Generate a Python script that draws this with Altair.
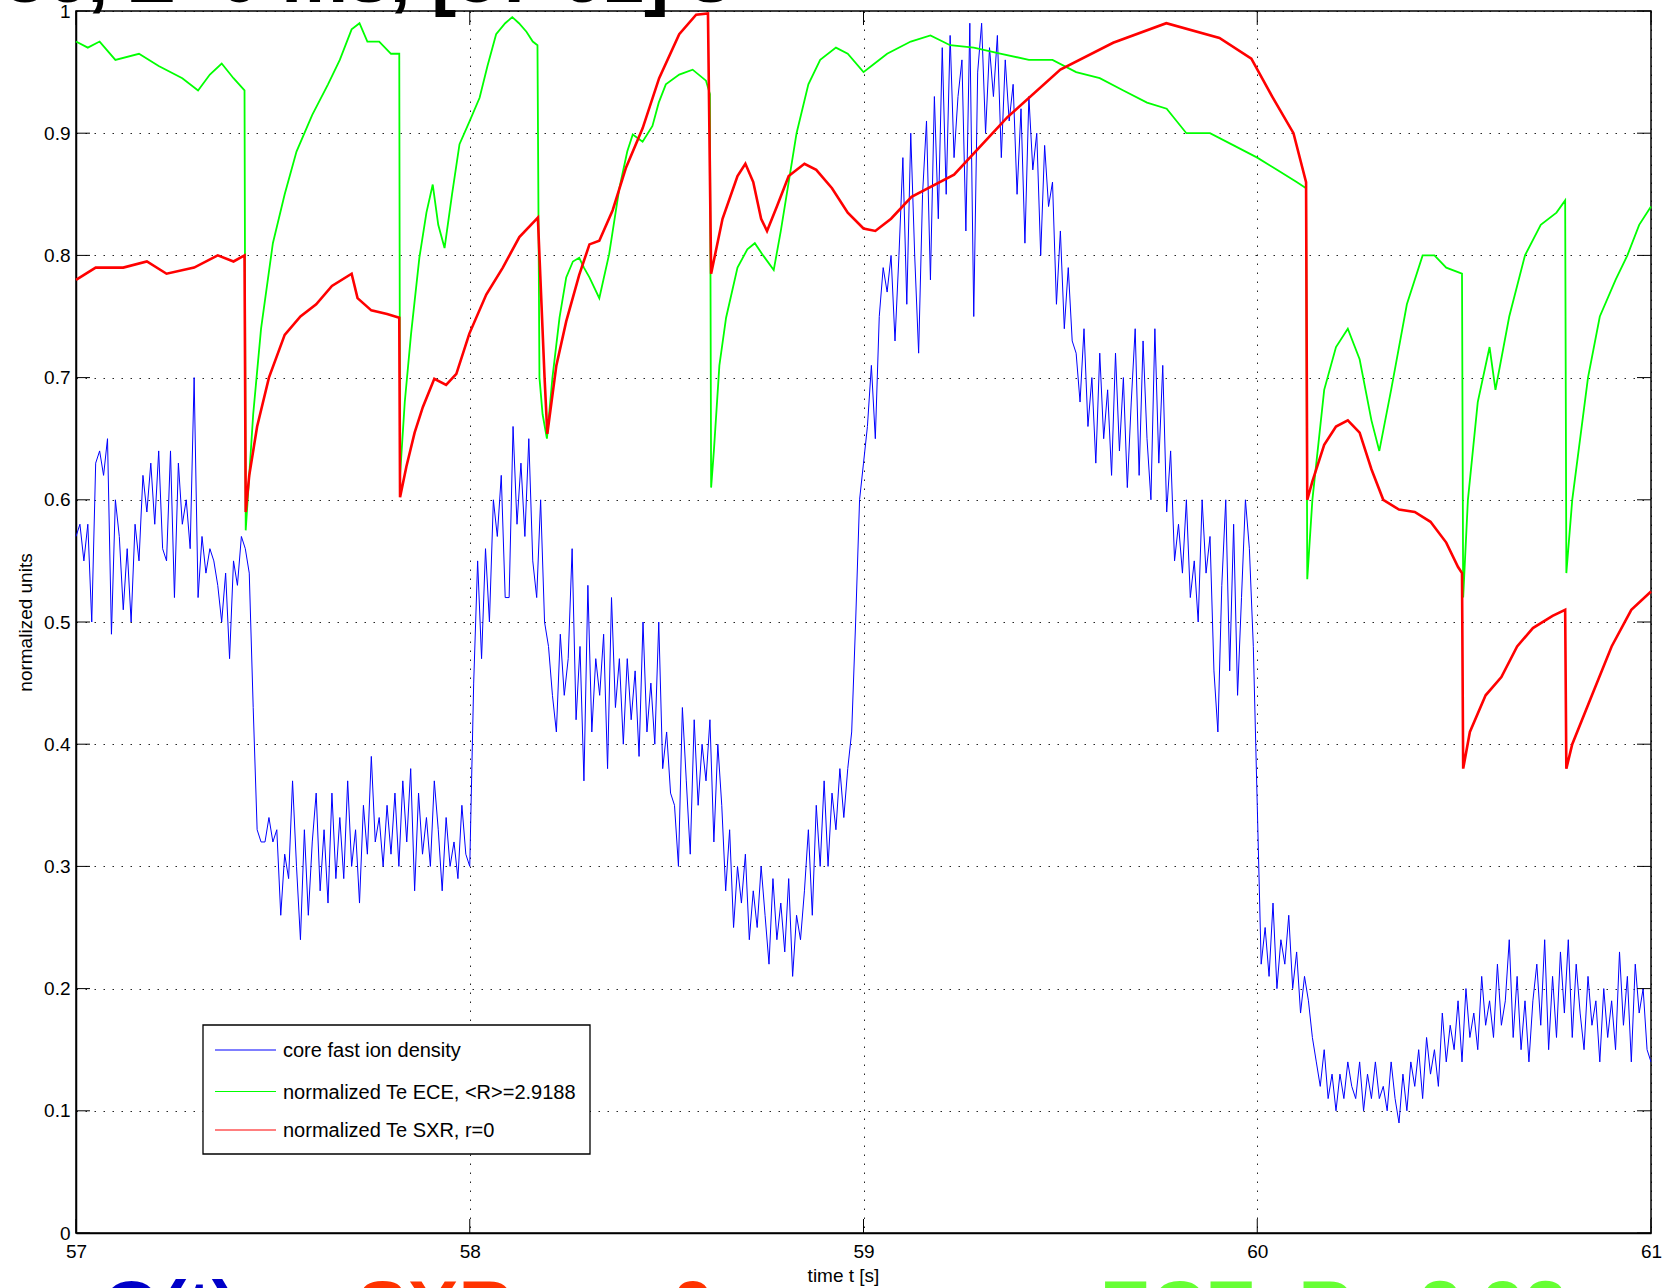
import altair as alt
import pandas as pd

FONT = "Liberation Sans"

# ---------------- data ----------------
labels = ["core fast ion density", "normalized Te ECE, <R>=2.9188", "normalized Te SXR, r=0"]
colors = ["#0000ff", "#00ff00", "#ff0000"]

# core fast ion density, sampled every 0.01 s from 57.00 s
blue_start = 57.0
blue_step = 0.01
blue_v = [
    0.57, 0.58, 0.55, 0.58, 0.50, 0.63, 0.64, 0.62, 0.65, 0.49,
    0.60, 0.57, 0.51, 0.56, 0.50, 0.58, 0.55, 0.62, 0.59, 0.63,
    0.58, 0.64, 0.56, 0.55, 0.64, 0.52, 0.63, 0.58, 0.60, 0.56,
    0.70, 0.52, 0.57, 0.54, 0.56, 0.55, 0.53, 0.50, 0.54, 0.47,
    0.55, 0.53, 0.57, 0.56, 0.54, 0.43, 0.33, 0.32, 0.32, 0.34,
    0.32, 0.33, 0.26, 0.31, 0.29, 0.37, 0.30, 0.24, 0.33, 0.26,
    0.32, 0.36, 0.28, 0.33, 0.27, 0.36, 0.29, 0.34, 0.29, 0.37,
    0.30, 0.33, 0.27, 0.35, 0.31, 0.39, 0.32, 0.34, 0.30, 0.35,
    0.31, 0.36, 0.30, 0.37, 0.32, 0.38, 0.28, 0.36, 0.31, 0.34,
    0.30, 0.37, 0.33, 0.28, 0.34, 0.30, 0.32, 0.29, 0.35, 0.31,
    0.30, 0.45, 0.55, 0.47, 0.56, 0.50, 0.60, 0.57, 0.62, 0.52,
    0.52, 0.66, 0.58, 0.63, 0.57, 0.65, 0.55, 0.52, 0.60, 0.50,
    0.48, 0.44, 0.41, 0.49, 0.44, 0.47, 0.56, 0.42, 0.48, 0.37,
    0.53, 0.41, 0.47, 0.44, 0.49, 0.38, 0.52, 0.43, 0.47, 0.40,
    0.47, 0.42, 0.46, 0.39, 0.50, 0.41, 0.45, 0.40, 0.50, 0.38,
    0.41, 0.36, 0.35, 0.30, 0.43, 0.37, 0.31, 0.42, 0.35, 0.40,
    0.37, 0.42, 0.32, 0.40, 0.35, 0.28, 0.33, 0.25, 0.30, 0.27,
    0.31, 0.24, 0.28, 0.25, 0.30, 0.26, 0.22, 0.29, 0.24, 0.27,
    0.23, 0.29, 0.21, 0.26, 0.24, 0.28, 0.33, 0.26, 0.35, 0.30,
    0.37, 0.30, 0.36, 0.33, 0.38, 0.34, 0.38, 0.41, 0.50, 0.60,
    0.63, 0.66, 0.71, 0.65, 0.75, 0.79, 0.77, 0.80, 0.73, 0.80,
    0.88, 0.76, 0.90, 0.80, 0.72, 0.85, 0.91, 0.78, 0.93, 0.83,
    0.97, 0.85, 0.98, 0.88, 0.93, 0.96, 0.82, 0.99, 0.75, 0.95,
    0.99, 0.90, 0.97, 0.93, 0.98, 0.88, 0.96, 0.91, 0.94, 0.85,
    0.92, 0.81, 0.93, 0.87, 0.90, 0.80, 0.89, 0.84, 0.86, 0.76,
    0.82, 0.74, 0.79, 0.73, 0.72, 0.68, 0.74, 0.66, 0.70, 0.63,
    0.72, 0.65, 0.69, 0.62, 0.72, 0.64, 0.70, 0.61, 0.68, 0.74,
    0.62, 0.73, 0.65, 0.60, 0.74, 0.63, 0.71, 0.59, 0.64, 0.55,
    0.58, 0.54, 0.60, 0.52, 0.55, 0.50, 0.60, 0.54, 0.57, 0.46,
    0.41, 0.53, 0.60, 0.46, 0.58, 0.44, 0.52, 0.60, 0.56, 0.48,
    0.35, 0.22, 0.25, 0.21, 0.27, 0.20, 0.24, 0.22, 0.26, 0.20,
    0.23, 0.18, 0.21, 0.19, 0.16, 0.14, 0.12, 0.15, 0.11, 0.13,
    0.10, 0.13, 0.11, 0.14, 0.12, 0.11, 0.14, 0.10, 0.13, 0.11,
    0.14, 0.11, 0.12, 0.10, 0.14, 0.11, 0.09, 0.13, 0.10, 0.14,
    0.12, 0.15, 0.11, 0.16, 0.13, 0.15, 0.12, 0.18, 0.14, 0.17,
    0.15, 0.19, 0.14, 0.20, 0.16, 0.18, 0.15, 0.21, 0.17, 0.19,
    0.16, 0.22, 0.17, 0.19, 0.24, 0.16, 0.21, 0.15, 0.19, 0.14,
    0.19, 0.22, 0.17, 0.24, 0.15, 0.21, 0.16, 0.23, 0.18, 0.24,
    0.16, 0.22, 0.18, 0.15, 0.21, 0.17, 0.19, 0.14, 0.20, 0.16,
    0.19, 0.15, 0.23, 0.17, 0.21, 0.14, 0.22, 0.18, 0.20, 0.15,
    0.14,
]
blue_t = [round(blue_start + i * blue_step, 3) for i in range(len(blue_v))]

# normalized Te ECE
green_t = [
    57.000, 57.030, 57.060, 57.100, 57.160, 57.210, 57.270, 57.310, 57.340, 57.370,
    57.400, 57.428, 57.431, 57.440, 57.450, 57.470, 57.500, 57.530, 57.560, 57.600,
    57.640, 57.670, 57.700, 57.720, 57.740, 57.770, 57.800, 57.821, 57.823, 57.835,
    57.851, 57.872, 57.890, 57.906, 57.920, 57.936, 57.955, 57.974, 58.000, 58.025,
    58.045, 58.067, 58.090, 58.108, 58.125, 58.144, 58.160, 58.172, 58.177, 58.185,
    58.196, 58.210, 58.228, 58.245, 58.262, 58.278, 58.290, 58.304, 58.329, 58.354,
    58.380, 58.400, 58.414, 58.439, 58.464, 58.480, 58.498, 58.532, 58.566, 58.600,
    58.610, 58.613, 58.620, 58.634, 58.651, 58.680, 58.705, 58.724, 58.745, 58.772,
    58.790, 58.810, 58.830, 58.860, 58.890, 58.930, 58.960, 59.000, 59.020, 59.060,
    59.120, 59.170, 59.220, 59.280, 59.350, 59.420, 59.480, 59.540, 59.600, 59.660,
    59.720, 59.770, 59.820, 59.880, 59.940, 60.000, 60.050, 60.100, 60.124, 60.127,
    60.140, 60.170, 60.200, 60.230, 60.260, 60.290, 60.310, 60.340, 60.380, 60.420,
    60.450, 60.480, 60.520, 60.523, 60.535, 60.560, 60.590, 60.605, 60.640, 60.680,
    60.720, 60.760, 60.782, 60.785, 60.800, 60.840, 60.870, 60.910, 60.940, 60.970,
    61.000,
]
green_v = [
    0.975, 0.970, 0.975, 0.960, 0.965, 0.955, 0.945, 0.935, 0.948, 0.957,
    0.945, 0.935, 0.575, 0.620, 0.670, 0.740, 0.810, 0.850, 0.885, 0.915,
    0.940, 0.960, 0.985, 0.990, 0.975, 0.975, 0.965, 0.965, 0.620, 0.680,
    0.736, 0.798, 0.835, 0.858, 0.825, 0.806, 0.850, 0.891, 0.910, 0.929,
    0.955, 0.981, 0.990, 0.995, 0.990, 0.983, 0.975, 0.972, 0.700, 0.670,
    0.650, 0.700, 0.749, 0.782, 0.795, 0.798, 0.790, 0.782, 0.765, 0.801,
    0.855, 0.885, 0.899, 0.893, 0.906, 0.925, 0.940, 0.948, 0.952, 0.943,
    0.932, 0.610, 0.640, 0.710, 0.749, 0.790, 0.805, 0.810, 0.800, 0.788,
    0.820, 0.860, 0.900, 0.940, 0.960, 0.970, 0.965, 0.950, 0.955, 0.965,
    0.975, 0.980, 0.972, 0.970, 0.965, 0.960, 0.960, 0.950, 0.945, 0.935,
    0.925, 0.920, 0.900, 0.900, 0.890, 0.880, 0.870, 0.860, 0.855, 0.535,
    0.600, 0.690, 0.725, 0.740, 0.715, 0.665, 0.640, 0.690, 0.760, 0.800,
    0.800, 0.790, 0.785, 0.520, 0.600, 0.680, 0.725, 0.690, 0.750, 0.800,
    0.825, 0.835, 0.845, 0.540, 0.600, 0.700, 0.750, 0.780, 0.800, 0.825,
    0.840,
]

# normalized Te SXR
red_t = [
    57.000, 57.050, 57.120, 57.180, 57.230, 57.300, 57.360, 57.400, 57.428, 57.431,
    57.440, 57.460, 57.490, 57.530, 57.570, 57.610, 57.650, 57.700, 57.715, 57.750,
    57.790, 57.821, 57.823, 57.839, 57.860, 57.881, 57.910, 57.940, 57.966, 57.999,
    58.042, 58.084, 58.126, 58.173, 58.177, 58.190, 58.197, 58.220, 58.245, 58.278,
    58.304, 58.329, 58.363, 58.397, 58.439, 58.481, 58.532, 58.575, 58.605, 58.613,
    58.642, 58.680, 58.700, 58.720, 58.740, 58.755, 58.780, 58.810, 58.850, 58.880,
    58.920, 58.960, 59.000, 59.030, 59.070, 59.122, 59.230, 59.365, 59.500, 59.634,
    59.769, 59.904, 59.985, 60.038, 60.092, 60.124, 60.127, 60.140, 60.170, 60.200,
    60.230, 60.260, 60.290, 60.320, 60.360, 60.400, 60.440, 60.480, 60.510, 60.520,
    60.523, 60.540, 60.580, 60.620, 60.660, 60.700, 60.750, 60.782, 60.785, 60.800,
    60.850, 60.900, 60.950, 61.000,
]
red_v = [
    0.780, 0.790, 0.790, 0.795, 0.785, 0.790, 0.800, 0.795, 0.800, 0.590,
    0.620, 0.660, 0.700, 0.735, 0.750, 0.760, 0.775, 0.785, 0.765, 0.755,
    0.752, 0.749, 0.602, 0.627, 0.655, 0.676, 0.699, 0.694, 0.703, 0.736,
    0.768, 0.790, 0.815, 0.831, 0.800, 0.700, 0.654, 0.710, 0.746, 0.784,
    0.809, 0.812, 0.837, 0.872, 0.904, 0.945, 0.981, 0.997, 0.998, 0.785,
    0.830, 0.865, 0.875, 0.860, 0.830, 0.820, 0.840, 0.865, 0.875, 0.870,
    0.855, 0.835, 0.822, 0.820, 0.830, 0.848, 0.866, 0.913, 0.952, 0.974,
    0.990, 0.978, 0.961, 0.930, 0.900, 0.860, 0.600, 0.615, 0.645, 0.660,
    0.665, 0.655, 0.625, 0.600, 0.592, 0.590, 0.582, 0.565, 0.545, 0.540,
    0.380, 0.410, 0.440, 0.455, 0.480, 0.495, 0.505, 0.510, 0.380, 0.400,
    0.440, 0.480, 0.510, 0.525,
]

x_ticks = [57, 58, 59, 60, 61]
y_ticks = [round(i * 0.1, 1) for i in range(11)]

title_text = "86, Z=0 ms, [57 61] s"
caption_blue = "Q(t)"
caption_red = "SXR,  r =  0"
caption_green = "ECE, R= 2.92"

# ---------------- layout ----------------
W, H = 1575, 1222
PAD = {"left": 76, "top": 11, "right": 11, "bottom": 55}

frames = []
for lab, tt, vv in zip(labels, [blue_t, green_t, red_t], [blue_v, green_v, red_v]):
    frames.append(pd.DataFrame({"t": tt, "v": vv, "series": lab}))
df = pd.concat(frames, ignore_index=True)

xs = alt.Scale(domain=[57, 61], nice=False, zero=False)
ys = alt.Scale(domain=[0, 1], nice=False, zero=False)

x_axis = alt.Axis(
    values=x_ticks, format="d", title="time t [s]", ticks=False, labelFlush=False,
    labelOverlap=False,
    labelPadding=9, labelFontSize=19, titleFontSize=19, titleFontWeight="normal",
    titleX=767, titleY=48, titleBaseline="alphabetic", titleAlign="center",
    grid=True, gridDash=[1.5, 7.5], gridColor="#000000", gridOpacity=0.85,
    domainColor="#000000", domainWidth=1.5, labelColor="#000000", titleColor="#000000")
y_axis = alt.Axis(
    values=y_ticks, format="~g", title="normalized units", ticks=False, labelFlush=False,
    labelOverlap=False,
    labelPadding=6, labelFontSize=19, titleFontSize=19, titleFontWeight="normal",
    titleX=-45, titleY=611, titleAngle=270, titleBaseline="alphabetic", titleAlign="center",
    grid=True, gridDash=[1.5, 7.5], gridColor="#000000", gridOpacity=0.85,
    domainColor="#000000", domainWidth=1.5, labelColor="#000000", titleColor="#000000")

lines = alt.Chart(df).mark_line(strokeJoin="miter").encode(
    x=alt.X("t:Q", scale=xs, axis=x_axis),
    y=alt.Y("v:Q", scale=ys, axis=y_axis),
    color=alt.Color("series:N", scale=alt.Scale(domain=labels, range=colors), legend=None),
    strokeWidth=alt.StrokeWidth("series:N", scale=alt.Scale(domain=labels, range=[1.0, 2.6, 1.3]), legend=None),
)

tick_y_df = pd.DataFrame({"v": y_ticks})
tick_x_df = pd.DataFrame({"t": x_ticks})
TL = 14
ticks_left = alt.Chart(tick_y_df).mark_rule(color="black", strokeWidth=1).encode(
    y=alt.Y("v:Q", scale=ys, axis=y_axis), x=alt.value(0), x2=alt.value(TL))
ticks_right = alt.Chart(tick_y_df).mark_rule(color="black", strokeWidth=1).encode(
    y=alt.Y("v:Q", scale=ys, axis=y_axis), x=alt.value(W - TL), x2=alt.value(W))
ticks_bottom = alt.Chart(tick_x_df).mark_rule(color="black", strokeWidth=1).encode(
    x=alt.X("t:Q", scale=xs, axis=x_axis), y=alt.value(H - TL), y2=alt.value(H))
ticks_top = alt.Chart(tick_x_df).mark_rule(color="black", strokeWidth=1).encode(
    x=alt.X("t:Q", scale=xs, axis=x_axis), y=alt.value(0), y2=alt.value(TL))

# legend box
legend_box = alt.Chart(pd.DataFrame({"k": [0]})).mark_rect(
    fill="white", stroke="black", strokeWidth=1.3).encode(
    x=alt.value(127), x2=alt.value(514), y=alt.value(1014), y2=alt.value(1143))

legend_rows = [1039, 1080.5, 1119]
legend_layers = []
for lab, col, ry in zip(labels, colors, legend_rows):
    one = pd.DataFrame({"s": [lab]})
    legend_layers.append(alt.Chart(one).mark_rule(color=col, strokeWidth=1.2).encode(
        x=alt.value(139), x2=alt.value(200), y=alt.value(ry)))
    legend_layers.append(alt.Chart(one).mark_text(
        align="left", baseline="middle", font=FONT, fontSize=20, color="black").encode(
        x=alt.value(207), y=alt.value(ry + 1), text="s:N"))


def caption(text, x, y, size, color, weight="bold"):
    return alt.Chart(pd.DataFrame({"s": [text]})).mark_text(
        align="left", baseline="alphabetic", font=FONT, fontSize=size,
        fontWeight=weight, color=color).encode(
        x=alt.value(x), y=alt.value(y), text="s:N")


captions = [
    caption(title_text, -72, -9, 75, "#000000"),
    caption(caption_blue, 26, 1323, 76, "#0000c8"),
    caption(caption_red, 281, 1323, 76, "#ff3300"),
    caption(caption_green, 1024, 1323, 76, "#66ff33"),
]

chart = alt.layer(
    lines, ticks_left, ticks_right, ticks_bottom, ticks_top,
    legend_box, *legend_layers, *captions,
).properties(
    width=W, height=H,
    autosize=alt.AutoSizeParams(type="none"),
    padding=PAD,
    background="white",
).configure_view(
    stroke="black", strokeWidth=1.5,
).configure_axis(
    labelFont=FONT, titleFont=FONT,
)

chart.save("out.html", embed_options={"renderer": "svg", "actions": False})
